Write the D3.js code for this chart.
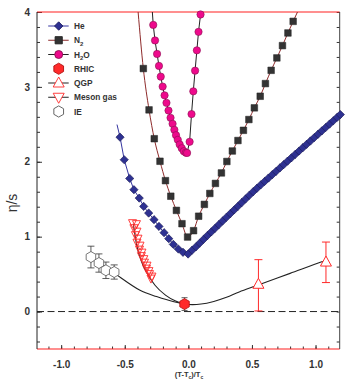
<!DOCTYPE html>
<html>
<head>
<meta charset="utf-8">
<script src="https://cdn.jsdelivr.net/npm/d3@7"></script>
<style>
body { margin: 0; background: #fff; }
text { font-family: "Liberation Sans", Arial, sans-serif; font-weight: bold; fill: #333; }
</style>
</head>
<body>
<div id="chart"></div>
<script>
// helium, [ (T-Tc)/Tc , eta/s ]
var helium = [
	[-0.537,2.328],[-0.504,2.027],[-0.461,1.777],[-0.428,1.627],[-0.386,1.515],[-0.351,1.404],
	[-0.312,1.315],[-0.270,1.227],[-0.231,1.137],[-0.191,1.053],[-0.154,0.973],[-0.118,0.897],
	[-0.079,0.835],[-0.042,0.791],[-0.002,0.768],
	[0.03,0.82],[0.06,0.865],[0.09,0.915],[0.12,0.965],[0.15,1.015],[0.18,1.063],[0.21,1.112],
	[0.24,1.161],[0.27,1.210],[0.30,1.259],[0.33,1.308],[0.36,1.357],[0.39,1.406],[0.42,1.455],
	[0.45,1.504],[0.48,1.553],[0.51,1.601],[0.54,1.647],[0.57,1.693],[0.60,1.738],[0.63,1.783],
	[0.66,1.828],[0.69,1.873],[0.72,1.918],[0.75,1.963],[0.78,2.008],[0.81,2.053],[0.84,2.098],
	[0.87,2.143],[0.90,2.188],[0.93,2.233],[0.96,2.278],[0.99,2.323],[1.02,2.368],[1.05,2.413],
	[1.08,2.458],[1.11,2.503],[1.14,2.548],[1.17,2.593],[1.195,2.63]
];
var heliumFit = [[-0.561,2.497]].concat(helium);

var nitrogen = [
	[-0.354,3.245],[-0.309,2.693],[-0.268,2.308],[-0.223,2.007],[-0.180,1.748],[-0.138,1.540],
	[-0.094,1.351],[-0.050,1.173],[-0.006,0.995],[0.041,1.080],[0.081,1.273],[0.126,1.431],
	[0.169,1.577],[0.213,1.711],[0.260,1.851],[0.303,2.004],[0.346,2.144],[0.390,2.284],
	[0.433,2.420],[0.476,2.564],[0.519,2.720],[0.565,2.875],[0.606,3.044],[0.651,3.221],
	[0.696,3.387],[0.740,3.551],[0.783,3.720],[0.824,3.875]
];
var nitrogenFit = [[-0.395,4.0]].concat(nitrogen, [[0.858,4.0]]);

var water = [
	[-0.276,3.828],[-0.262,3.620],[-0.246,3.440],[-0.231,3.280],[-0.217,3.137],[-0.202,3.004],
	[-0.187,2.887],[-0.172,2.787],[-0.156,2.684],[-0.140,2.587],[-0.124,2.507],[-0.110,2.427],
	[-0.097,2.355],[-0.083,2.293],[-0.068,2.231],[-0.052,2.181],[-0.036,2.141],[-0.020,2.122],
	[-0.010,2.118],[0.010,2.267],[0.025,2.637],[0.039,2.941],[0.053,3.217],[0.067,3.488],
	[0.080,3.735],[0.096,3.967]
];
var waterFit = [[-0.283,4.0]].concat(water);

var mesonGas = [
	[-0.439,1.184],[-0.408,1.171],[-0.428,1.117],[-0.404,1.071],[-0.416,1.024],[-0.396,0.977],
	[-0.404,0.924],[-0.380,0.884],[-0.384,0.831],[-0.365,0.791],[-0.369,0.744],[-0.350,0.704],
	[-0.345,0.657],[-0.325,0.617],[-0.329,0.577],[-0.310,0.544],[-0.305,0.504],[-0.286,0.471],
	[-0.294,0.444]
];

// [x, y, error]
var ie = [[-0.766,0.728,0.145],[-0.703,0.648,0.122],[-0.648,0.551,0.110],[-0.583,0.528,0.095]];
var rhic = [[-0.030,0.100,0.085]];
var qgp = [[0.551,0.364,0.356,0.329],[1.082,0.661,0.274,0.267]]; // x, y, down, up

var fitLow = [
	[-0.741,0.707],[-0.577,0.507],[-0.380,0.284],[-0.250,0.200],[-0.113,0.130],[0.000,0.095],
	[0.100,0.100],[0.200,0.135],[0.300,0.190],[0.400,0.262],[0.544,0.351],[0.800,0.510],
	[1.043,0.661],[1.085,0.690]
];
var fitMeson = [
	[-0.433,1.173],[-0.406,0.884],[-0.367,0.661],[-0.315,0.484],[-0.262,0.351],[-0.180,0.220],
	[-0.100,0.140],[-0.030,0.100]
];

var xTicks = [-1.0, -0.5, 0.0, 0.5, 1.0];
var yTicks = [0, 1, 2, 3, 4];
var legendNames = ["He", "N2", "H2O", "RHIC", "QGP", "Meson gas", "IE"];

var width = 348, height = 391;
var L = 37, R = 339.7, T = 12, B = 349;

var svg = d3.select("#chart").append("svg")
	.attr("width", width)
	.attr("height", height);

var x = d3.scaleLinear().domain([-1.19, 1.19]).range([L, R]);
var y = d3.scaleLinear().domain([-0.5, 4]).range([B, T]);

function styleAxis(g) {
	g.select(".domain").remove();
	g.selectAll("line").attr("stroke", "#333");
	g.selectAll("text")
		.attr("font-size", 10)
		.attr("font-family", "Liberation Sans, Arial, sans-serif")
		.attr("font-weight", "bold")
		.attr("fill", "#333");
}

// minor + major ticks, all pointing inward
svg.append("g").attr("transform", "translate(0," + B + ")")
	.call(d3.axisBottom(x).tickValues(d3.range(-1.1, 1.15, 0.1)).tickSize(-2.5).tickFormat(""))
	.call(styleAxis);
svg.append("g").attr("transform", "translate(0," + B + ")")
	.call(d3.axisBottom(x).tickValues(xTicks).tickSize(-4).tickPadding(12)
		.tickFormat(function(d) { return d3.format(".1f")(d).replace("−", "-"); }))
	.call(styleAxis);
svg.append("g").attr("transform", "translate(" + L + ",0)")
	.call(d3.axisLeft(y).tickValues(d3.range(-0.4, 4.01, 0.2)).tickSize(-3).tickFormat(""))
	.call(styleAxis);
svg.append("g").attr("transform", "translate(" + L + ",0)")
	.call(d3.axisLeft(y).tickValues(yTicks).tickSize(-5).tickPadding(7).tickFormat(d3.format("d")))
	.call(styleAxis);
svg.append("g").attr("transform", "translate(" + R + ",0)")
	.call(d3.axisRight(y).tickValues(d3.range(-0.4, 4.01, 0.2)).tickSize(-3).tickFormat(""))
	.call(styleAxis);

// frame
svg.append("line").attr("x1", L).attr("x2", R).attr("y1", T).attr("y2", T).attr("stroke", "#ff2020").attr("stroke-width", 1.2);
svg.append("line").attr("x1", L).attr("x2", R).attr("y1", B).attr("y2", B).attr("stroke", "#ff2020").attr("stroke-width", 1.2);
svg.append("line").attr("x1", L).attr("x2", L).attr("y1", T).attr("y2", B).attr("stroke", "#222");
svg.append("line").attr("x1", R).attr("x2", R).attr("y1", T).attr("y2", B).attr("stroke", "#444");

// zero line
svg.append("line")
	.attr("x1", L).attr("x2", R).attr("y1", y(0)).attr("y2", y(0))
	.attr("stroke", "#222").attr("stroke-dasharray", "7,3.5");

// axis titles
svg.append("text")
	.attr("transform", "translate(17,203) rotate(-90)")
	.attr("text-anchor", "middle")
	.attr("font-size", 14)
	.style("font-weight", "normal")
	.text("η/s");

var xt = svg.append("text").attr("x", 189).attr("y", 377).attr("text-anchor", "middle").attr("font-size", 7.5);
xt.append("tspan").text("(T-T");
xt.append("tspan").attr("font-size", 5).attr("dy", 2).text("c");
xt.append("tspan").attr("dy", -2).text(")/T");
xt.append("tspan").attr("font-size", 5).attr("dy", 2).text("c");

// symbol shapes
function hexagon(r) {
	var p = [];
	for (var k = 0; k < 6; k++) {
		var a = Math.PI / 3 * k - Math.PI / 2;
		p.push([r * Math.cos(a), r * Math.sin(a)]);
	}
	return "M" + p.join("L") + "Z";
}
function triangle(w, h, down) {
	var s = down ? -1 : 1;
	return "M0," + (-s * h * 0.6) + "L" + (w / 2) + "," + (s * h * 0.4) + "L" + (-w / 2) + "," + (s * h * 0.4) + "Z";
}
function diamond(d) {
	return "M0," + (-d) + "L" + d + ",0L0," + d + "L" + (-d) + ",0Z";
}
function square(s) {
	return "M" + (-s) + "," + (-s) + "H" + s + "V" + s + "H" + (-s) + "Z";
}

function curve(data, color, width, type) {
	svg.append("path")
		.datum(data)
		.attr("fill", "none")
		.attr("stroke", color)
		.attr("stroke-width", width)
		.attr("d", d3.line()
			.x(function(d) { return x(d[0]); })
			.y(function(d) { return y(d[1]); })
			.curve(type || d3.curveMonotoneX));
}

// fit lines
curve(nitrogenFit, "#8e2b2b", 1);
curve(waterFit, "#222", 1, d3.curveLinear);
curve(heliumFit, "#3535a0", 1, d3.curveLinear);
curve(fitLow, "#222", 1.1, d3.curveCatmullRom.alpha(0.5));
curve(fitMeson, "#222", 1.1);

function marks(data, shape, fill, stroke, sw) {
	svg.append("g").selectAll("path")
		.data(data)
		.enter()
		.append("path")
		.attr("transform", function(d) { return "translate(" + x(d[0]) + "," + y(d[1]) + ")"; })
		.attr("d", shape)
		.attr("fill", fill)
		.attr("stroke", stroke)
		.attr("stroke-width", sw);
}

marks(mesonGas, triangle(8, 8, true), "none", "#ff2a2a", 0.9);

// error bars
function errorBars(data, color, cap, sw) {
	var g = svg.append("g").attr("stroke", color).attr("stroke-width", sw);
	data.forEach(function(d) {
		var lo = d[1] - d[2];
		var hi = d.length > 3 ? d[1] + d[3] : d[1] + d[2];
		var cx = x(d[0]);
		g.append("line").attr("x1", cx).attr("x2", cx).attr("y1", y(lo)).attr("y2", y(hi));
		g.append("line").attr("x1", cx - cap).attr("x2", cx + cap).attr("y1", y(lo)).attr("y2", y(lo));
		g.append("line").attr("x1", cx - cap).attr("x2", cx + cap).attr("y1", y(hi)).attr("y2", y(hi));
	});
}
errorBars(ie, "#333", 3.5, 0.8);
errorBars(rhic, "#333", 3, 0.8);
errorBars(qgp, "#ff2a2a", 4, 1);

marks(ie, hexagon(5.5), "#fff", "#555", 0.8);
marks(rhic, hexagon(5.5), "#ff2a2a", "#b01010", 0.8);
marks(qgp, triangle(11, 10, false), "#fff", "#ff2a2a", 1);

marks(nitrogen, square(3.3), "#333", "#222", 0.5);
marks(water, function() { return d3.symbol(d3.symbolCircle, 42)(); }, "#ee0a8c", "#8a1050", 0.6);
marks(helium, diamond(4.1), "#2e3192", "#1c1c5a", 0.7);

// legend
var lx = 58.7, ly0 = 26, ldy = 14.25;
var legendStyle = [
	{ line: "#3535a0", shape: diamond(4.2), fill: "#2e3192", stroke: "#1c1c62" },
	{ line: "#8e2b2b", shape: square(3.6), fill: "#333", stroke: "#222" },
	{ line: "#222", shape: d3.symbol(d3.symbolCircle, 50)(), fill: "#ee0a8c", stroke: "#8a1050" },
	{ line: null, shape: hexagon(5.6), fill: "#ff2a2a", stroke: "#b01010" },
	{ line: "#222", shape: triangle(11, 10, false), fill: "#fff", stroke: "#ff2a2a" },
	{ line: "#222", shape: triangle(11, 10, true), fill: "#fff", stroke: "#ff2a2a" },
	{ line: null, shape: hexagon(5.6), fill: "#fff", stroke: "#555" }
];
legendNames.forEach(function(name, i) {
	var ly = ly0 + i * ldy;
	var st = legendStyle[i];
	if (st.line) {
		svg.append("line").attr("x1", lx - 10.5).attr("x2", lx + 10).attr("y1", ly).attr("y2", ly)
			.attr("stroke", st.line).attr("stroke-width", 1);
	}
	svg.append("path").attr("transform", "translate(" + lx + "," + ly + ")")
		.attr("d", st.shape).attr("fill", st.fill).attr("stroke", st.stroke).attr("stroke-width", 0.9);
	var t = svg.append("text").attr("x", 74).attr("y", ly + 3).attr("font-size", 8.3);
	var m = name.match(/^([A-Z])2(O?)$/);
	if (m) {
		t.append("tspan").text(m[1]);
		t.append("tspan").attr("font-size", 6).attr("dy", 2.5).text("2");
		if (m[2]) t.append("tspan").attr("dy", -2.5).text(m[2]);
	} else {
		t.text(name);
	}
});
</script>
</body>
</html>
